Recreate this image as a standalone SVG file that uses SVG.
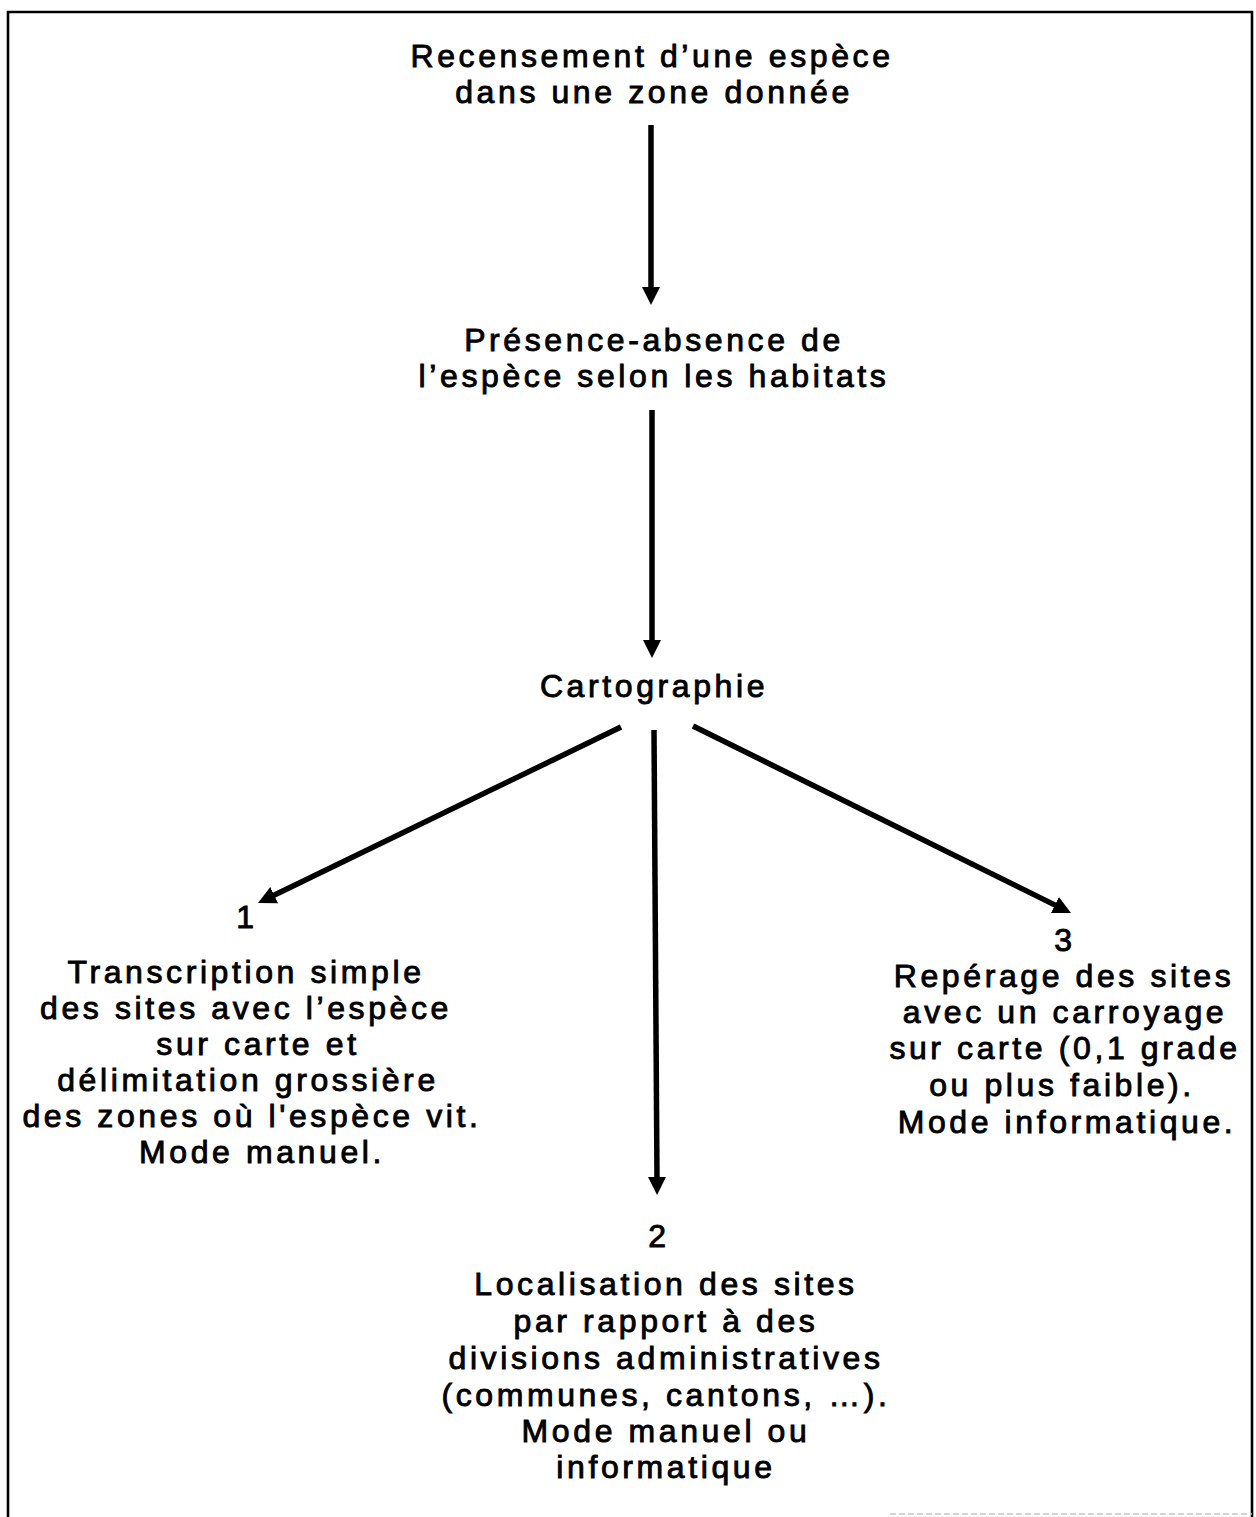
<svg xmlns="http://www.w3.org/2000/svg" width="1256" height="1517" viewBox="0 0 1256 1517">
  <style>
    .t { font-family: "Liberation Sans", Arial, sans-serif; font-size: 32px; letter-spacing: 3.6px; fill: #000; stroke: #000; stroke-width: 0.9px; text-anchor: middle; }
    .edge { stroke: #000; stroke-width: 5.5; fill: none; marker-end: url(#head); }
    .frame { stroke: #000; stroke-width: 2.6; fill: none; }
  </style>
  <defs>
    <marker id="head" viewBox="0 0 18 18" refX="2" refY="9" markerWidth="18" markerHeight="18" markerUnits="userSpaceOnUse" orient="auto">
      <path d="M0,0 L18,9 L0,18 Z" fill="#000"/>
    </marker>
  </defs>

  <rect width="1256" height="1517" fill="#fff"/>

  <!-- outer frame -->
  <path class="frame" d="M8,1517 V12 H1252 V1517"/>
  <line x1="890" y1="1514" x2="1252" y2="1514" stroke="#c8c8c8" stroke-width="1.5" stroke-dasharray="6 3"/>

  <!-- connectors -->
  <g id="connectors">
    <line class="edge" x1="651" y1="125" x2="651" y2="289"/>
    <line class="edge" x1="652" y1="410" x2="652" y2="642"/>
    <line class="edge" x1="654" y1="730" x2="657" y2="1179"/>
    <line class="edge" x1="621" y1="727" x2="272.4" y2="896"/>
    <line class="edge" x1="693" y1="726" x2="1056.7" y2="905.9"/>
  </g>

  <g id="recensement">
    <text class="t" x="652" y="67">Recensement d’une espèce</text>
    <text class="t" x="654" y="103">dans une zone donnée</text>
  </g>

  <g id="presence">
    <text class="t" x="654" y="351">Présence-absence de</text>
    <text class="t" x="654" y="387">l’espèce selon les habitats</text>
  </g>

  <g id="cartographie">
    <text class="t" x="654" y="697">Cartographie</text>
  </g>

  <g id="mode1">
    <text class="t" x="247" y="928">1</text>
    <text class="t" x="246" y="983">Transcription simple</text>
    <text class="t" x="246" y="1019">des sites avec l’espèce</text>
    <text class="t" x="258" y="1055">sur carte et</text>
    <text class="t" x="248" y="1091">délimitation grossière</text>
    <text class="t" x="252" y="1127">des zones où l'espèce vit.</text>
    <text class="t" x="262" y="1163">Mode manuel.</text>
  </g>

  <g id="mode2">
    <text class="t" x="659" y="1247">2</text>
    <text class="t" x="666" y="1295">Localisation des sites</text>
    <text class="t" x="666" y="1332">par rapport à des</text>
    <text class="t" x="666" y="1369">divisions administratives</text>
    <text class="t" x="666" y="1406">(communes, cantons, …).</text>
    <text class="t" x="666" y="1442">Mode manuel ou</text>
    <text class="t" x="666" y="1478">informatique</text>
  </g>

  <g id="mode3">
    <text class="t" x="1065" y="951">3</text>
    <text class="t" x="1064" y="987">Repérage des sites</text>
    <text class="t" x="1065" y="1023">avec un carroyage</text>
    <text class="t" x="1065" y="1059">sur carte (0,1 grade</text>
    <text class="t" x="1062" y="1096">ou plus faible).</text>
    <text class="t" x="1067" y="1133">Mode informatique.</text>
  </g>
</svg>
